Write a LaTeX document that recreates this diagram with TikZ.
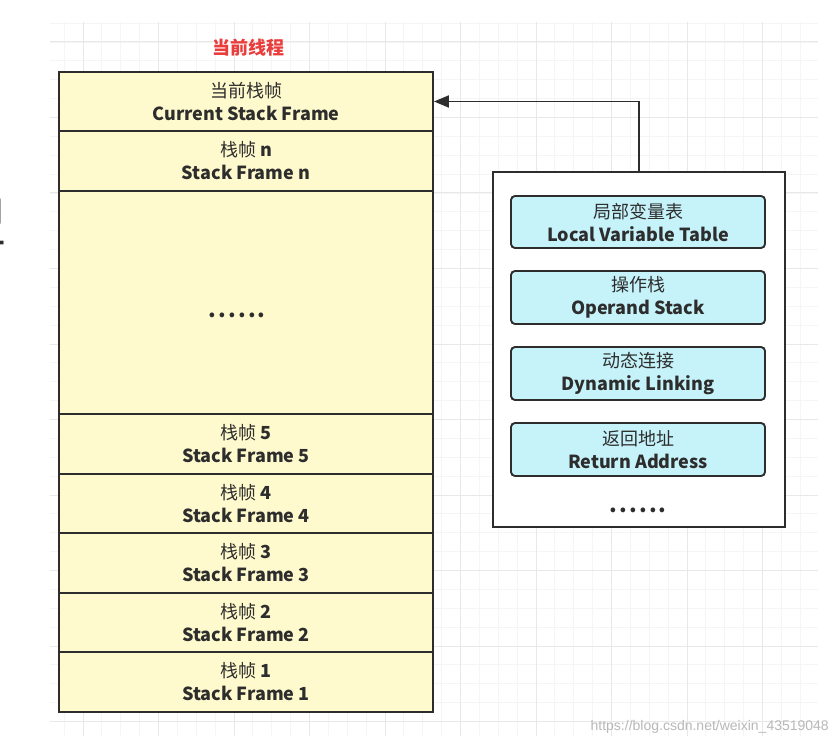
\documentclass[tikz,border=0pt]{standalone}
\usepackage{fontspec}
\setmainfont{Noto Sans CJK SC}
\newfontfamily\wmfont{Liberation Sans}
\usetikzlibrary{arrows.meta}
\definecolor{rowfill}{RGB}{255,250,205}
\definecolor{cyanfill}{RGB}{198,243,250}
\definecolor{edgec}{RGB}{45,45,45}
\definecolor{txtc}{RGB}{45,45,45}
\definecolor{titlered}{RGB}{235,60,60}
\definecolor{gridminor}{RGB}{245,245,245}
\definecolor{gridmajor}{RGB}{232,232,232}
\newcommand{\sixdots}{\bfseries .\kern2.2pt.\kern2.2pt.\kern2.2pt.\kern2.2pt.\kern2.2pt.}
\begin{document}
\begin{tikzpicture}[x=1pt,y=-1pt,
  rowbox/.style={draw=edgec, line width=1.9pt, fill=rowfill, minimum width=374pt, inner sep=0pt, align=center, text=txtc, font=\fontsize{18}{23}\selectfont},
  panelbox/.style={draw=edgec, line width=1.9pt, fill=white, minimum width=292pt, minimum height=355pt, inner sep=0pt},
  itembox/.style={draw=edgec, line width=1.9pt, fill=cyanfill, rounded corners=4pt, minimum width=254pt, inner sep=0pt, align=center, text=txtc, font=\fontsize{18}{23}\selectfont},
  conn/.style={draw=edgec, line width=1.9pt, -{Triangle[length=15pt,width=12pt]}},
  plaintext/.style={inner sep=0pt, text=txtc}
]
\useasboundingbox (0,0) rectangle (838,746);
\fill[white] (0,0) rectangle (838,746);
% grid
\begin{scope}
\clip (50,22) rectangle (818,736);
\foreach \i in {0,...,41} \draw[gridminor, line width=0.8pt] (45.25+18.875*\i,22) -- (45.25+18.875*\i,736);
\foreach \j in {0,...,38} \draw[gridminor, line width=0.8pt] (50,23.1+18.875*\j) -- (818,23.1+18.875*\j);
\foreach \i in {0,...,10} \draw[gridmajor, line width=1pt] (83+75.5*\i,22) -- (83+75.5*\i,736);
\foreach \j in {0,...,9} \draw[gridmajor, line width=1pt] (50,42+75.5*\j) -- (818,42+75.5*\j);
\end{scope}
% partial glyph at left edge
\begin{scope}
\clip (0,150) rectangle (9,260);
\node[plaintext, font=\fontsize{52}{52}\selectfont] at (-19,222) {型};
\end{scope}
% title
\node[plaintext, text=titlered, font=\fontsize{18}{18}\selectfont\bfseries] (title) at (248,48) {当前线程};
% stack
\node[rowbox, minimum height=59pt] (cur) at (246,101.5) {当前栈帧\\\bfseries Current Stack Frame};
\node[rowbox, minimum height=60pt] (fn) at (246,161) {栈帧 \textbf{n}\\\bfseries Stack Frame n};
\node[rowbox, minimum height=223pt] (fdots) at (246,302.5) {};
\node[plaintext, font=\fontsize{22}{22}\selectfont, anchor=base] (fdotstext) at (237,317) {\sixdots};
\node[rowbox, minimum height=60pt] (f5) at (246,444) {栈帧 \textbf{5}\\\bfseries Stack Frame 5};
\node[rowbox, minimum height=59pt] (f4) at (246,503.5) {栈帧 \textbf{4}\\\bfseries Stack Frame 4};
\node[rowbox, minimum height=60pt] (f3) at (246,563) {栈帧 \textbf{3}\\\bfseries Stack Frame 3};
\node[rowbox, minimum height=59pt] (f2) at (246,622.5) {栈帧 \textbf{2}\\\bfseries Stack Frame 2};
\node[rowbox, minimum height=60pt] (f1) at (246,682) {栈帧 \textbf{1}\\\bfseries Stack Frame 1};
% panel
\node[panelbox] (panel) at (639,349.5) {};
\node[itembox, minimum height=52pt] (lvt) at (638,222) {局部变量表\\\bfseries Local Variable Table};
\node[itembox, minimum height=53pt] (ops) at (638,297.5) {操作栈\\\bfseries Operand Stack};
\node[itembox, minimum height=53pt] (dyn) at (638,373.5) {动态连接\\\bfseries Dynamic Linking};
\node[itembox, minimum height=53pt] (ret) at (638,449.5) {返回地址\\\bfseries Return Address};
\node[plaintext, font=\fontsize{22}{22}\selectfont, anchor=base] (pdots) at (638,512) {\sixdots};
% connector
\draw[conn] (panel.north) |- (cur.east);
% watermark
\node[plaintext, text=black!28, font=\wmfont\fontsize{14}{14}\selectfont, anchor=east] (wm) at (829,727) {https://blog.csdn.net/weixin\_43519048};
\end{tikzpicture}
\end{document}
